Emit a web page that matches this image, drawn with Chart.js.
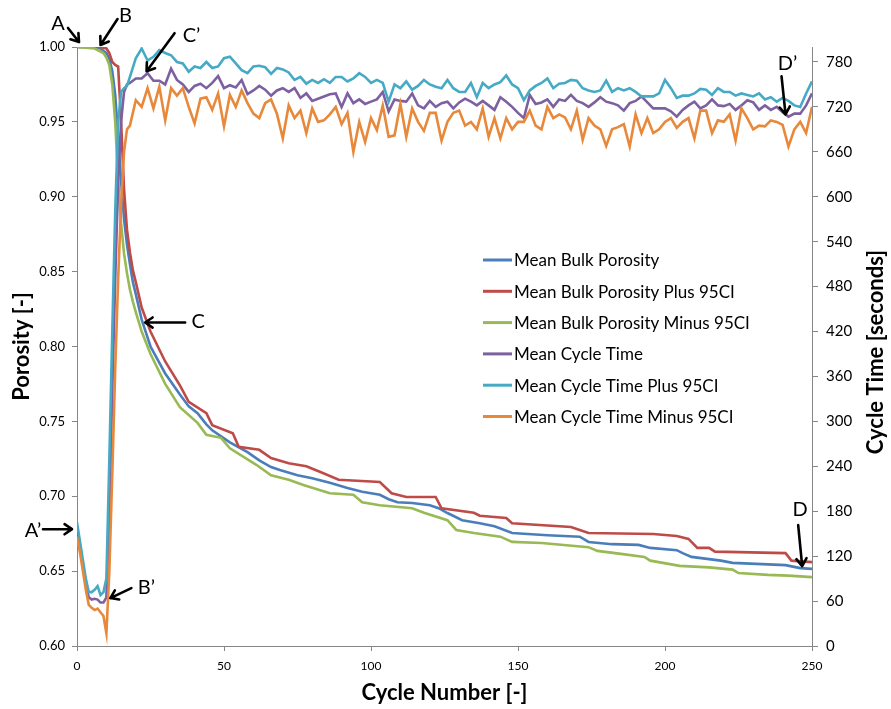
<!DOCTYPE html>
<html>
<head>
<meta charset="utf-8">
<script src="https://cdn.jsdelivr.net/npm/chart.js@4.4.1/dist/chart.umd.min.js"></script>
<style>
  body { margin: 0; background: #fff; }
  #wrap { width: 891px; height: 709px; }
</style>
</head>
<body>
<div id="wrap"><canvas id="porosityChart" width="891" height="709"></canvas></div>
<script>
// Porosity series: [cycle, porosity]
const meanPorosity = [[0,1.0],[5,1.0],[8,0.999],[10,0.996],[11,0.992],[12,0.984],[13,0.968],[14,0.94],[15,0.91],[16,0.885],[17,0.868],[18,0.855],[19,0.843],[20,0.835],[22,0.818],[25,0.80],[30,0.782],[35,0.768],[38,0.76],[41,0.7555],[44,0.748],[46,0.744],[52,0.736],[58,0.7295],[62,0.724],[66,0.7195],[69,0.7175],[75,0.714],[80,0.712],[86,0.709],[92,0.7055],[97,0.703],[103,0.701],[106,0.698],[109,0.696],[114,0.6955],[120,0.694],[123,0.692],[126,0.6888],[131,0.684],[137,0.682],[142,0.68],[148,0.6755],[160,0.674],[171,0.673],[174,0.6695],[182,0.668],[191,0.6675],[195,0.6655],[204,0.664],[206,0.662],[209,0.6595],[215,0.658],[219,0.657],[223,0.6555],[241,0.654],[246,0.652],[250,0.6515]];
const plusPorosity = [[0,1.0],[8,1.0],[10,0.999],[11,0.996],[12,0.99],[13,0.988],[14,0.987],[15,0.95],[16,0.905],[17,0.878],[18,0.863],[19,0.851],[20,0.843],[22,0.826],[25,0.81],[30,0.79],[35,0.774],[38,0.763],[44,0.7555],[46,0.7475],[53,0.742],[55,0.733],[62,0.731],[66,0.7255],[72,0.722],[78,0.72],[83,0.716],[89,0.711],[103,0.7095],[107,0.702],[112,0.6995],[122,0.6995],[124,0.692],[135,0.689],[137,0.687],[146,0.6855],[148,0.682],[168,0.6795],[174,0.6755],[196,0.6748],[204,0.6735],[208,0.6715],[211,0.6655],[215,0.6655],[217,0.663],[241,0.662],[243,0.657],[250,0.656]];
const minusPorosity = [[0,1.0],[6,0.999],[9,0.996],[10,0.993],[11,0.988],[12,0.975],[13,0.95],[14,0.91],[15,0.882],[16,0.862],[17,0.849],[18,0.838],[19,0.83],[20,0.823],[22,0.81],[25,0.795],[30,0.775],[35,0.7595],[41,0.749],[44,0.741],[49,0.739],[52,0.732],[61,0.721],[66,0.714],[72,0.711],[77,0.7075],[86,0.702],[94,0.701],[97,0.696],[103,0.694],[114,0.692],[118,0.689],[126,0.684],[129,0.6775],[135,0.6755],[144,0.673],[148,0.6695],[158,0.6688],[174,0.666],[177,0.6635],[185,0.6615],[193,0.6595],[195,0.657],[205,0.6535],[215,0.6525],[223,0.651],[225,0.6487],[235,0.6475],[242,0.647],[250,0.646]];

// Cycle time series (seconds), sampled at these cycles
const ctCycles = [0,1,2,3,4,5,6,7,8,9,10,11,12,13,14,15,16,17,18,
  20,22,24,26,28,30,32,34,36,38,40,42,44,46,48,50,52,54,56,58,60,62,64,66,68,70,72,74,76,78,80,
  82,84,86,88,90,92,94,96,98,100,102,104,106,108,110,112,114,116,118,120,122,124,126,128,130,132,134,136,138,140,142,144,146,148,150,152,154,156,158,160,162,
  164,166,168,170,172,174,176,178,180,182,184,186,188,190,192,194,196,198,200,202,204,206,208,210,212,214,216,218,220,222,224,226,228,230,232,234,236,238,240,242,244,246,248,250];
const meanCycleTime = [157,135,108,82,65,62,63,62,58,58,65,180,340,490,620,700,740,750,752,
  758,758,765,755,755,750,771,756,750,740,748,751,745,752,761,745,749,746,756,737,742,748,743,735,742,745,740,745,732,738,728,
  731,734,737,738,720,738,725,730,724,727,730,740,714,730,728,727,738,722,718,728,720,725,727,718,726,731,727,722,728,722,716,733,727,720,712,705,736,724,726,730,720,
  730,728,736,728,725,720,726,733,727,725,722,715,725,728,734,726,718,718,718,714,707,716,722,727,718,722,730,722,721,724,716,722,729,726,716,722,716,720,713,707,711,711,722,738];
const cycleTimePlus = [165,140,115,90,72,72,75,80,68,72,90,250,420,580,700,740,745,748,760,
  785,798,782,787,796,792,789,780,778,767,774,772,780,772,774,785,787,778,769,765,774,775,773,764,772,770,766,756,760,751,756,
  752,757,752,760,760,754,758,765,760,752,756,752,727,750,745,754,743,748,756,750,747,745,756,745,740,740,752,733,752,745,750,753,762,750,745,729,742,748,752,758,745,
  751,752,756,755,745,742,740,742,755,740,745,742,745,740,734,734,734,738,756,745,732,735,735,738,744,743,736,745,740,740,735,738,736,734,738,730,733,727,732,728,722,720,738,754];
const cycleTimeMinus = [146,125,100,75,55,51,48,50,45,40,17,100,230,370,490,590,660,690,695,
  729,720,745,718,747,702,745,735,745,720,698,731,733,716,738,694,736,720,742,725,711,705,725,730,711,678,722,705,715,685,718,
  700,702,710,720,697,712,660,700,673,705,689,722,680,682,724,680,718,700,688,712,712,675,700,712,715,695,700,690,718,680,705,678,705,690,700,700,715,695,690,720,705,
  710,706,690,715,676,705,695,690,668,690,693,697,667,710,685,705,685,690,700,705,692,700,705,678,715,715,685,702,700,710,675,718,705,690,695,694,702,700,696,667,690,700,685,720];

const seriesLabels = ['Mean Bulk Porosity', 'Mean Bulk Porosity Plus 95CI', 'Mean Bulk Porosity Minus 95CI',
  'Mean Cycle Time', 'Mean Cycle Time Plus 95CI', 'Mean Cycle Time Minus 95CI'];
const seriesColors = ['#4A7EBB', '#BE4B48', '#98B954', '#7D60A0', '#46AAC5', '#E8883A'];

// letter callouts: target in data units, offsets in px from the target
const callouts = [
  { text: 'A', axis: 'y', x: 0, y: 1.0, tip: [2, -5], tail: [-9, -19], label: [-19, -23] },
  { text: 'B', axis: 'y', x: 8, y: 1.0, tip: [0, -2], tail: [17, -28], label: [25, -31] },
  { text: 'C\u2019', axis: 'y2', x: 24, y: 765, tip: [-1, -2], tail: [27, -40], label: [44, -38] },
  { text: 'C', axis: 'y', x: 22.5, y: 0.816, tip: [2, 0], tail: [42, 0], label: [55, -1] },
  { text: 'D\u2019', axis: 'y2', x: 241, y: 710, tip: [0, 0], tail: [-4, -38], label: [2, -51] },
  { text: 'D', axis: 'y', x: 247, y: 0.6527, tip: [-1, -1], tail: [-5, -42], label: [-3, -58] },
  { text: 'A\u2019', axis: 'y2', x: 0, y: 156, tip: [-5, 0], tail: [-34, 0], label: [-44, 1] },
  { text: 'B\u2019', axis: 'y2', x: 11, y: 64, tip: [1, 0], tail: [22, -10], label: [37, -11] }
];

const FONT = 'Lato, "Open Sans", sans-serif';
const AXIS_GRAY = '#868686';
const TITLE_SIZE = 22;

const toPoints = pairs => pairs.map(p => ({ x: p[0], y: p[1] }));
const ctPoints = vals => ctCycles.map((c, i) => ({ x: c, y: vals[i] }));

const seriesData = [
  toPoints(meanPorosity), toPoints(plusPorosity), toPoints(minusPorosity),
  ctPoints(meanCycleTime), ctPoints(cycleTimePlus), ctPoints(cycleTimeMinus)
];

const datasets = seriesData.map((d, i) => ({
  label: seriesLabels[i],
  data: d,
  yAxisID: i < 3 ? 'y' : 'y2',
  borderColor: seriesColors[i],
  backgroundColor: seriesColors[i],
  borderWidth: 2.6,
  pointRadius: 0,
  tension: 0,
  order: 6 - i
}));

// legend inside the plot area
const legendInside = {
  id: 'legendInside',
  afterDraw(chart) {
    const ctx = chart.ctx;
    ctx.save();
    ctx.font = '17px ' + FONT;
    ctx.textBaseline = 'middle';
    ctx.fillStyle = '#000';
    chart.data.datasets.forEach((ds, i) => {
      const y = 260 + i * 31.3;
      ctx.strokeStyle = ds.borderColor;
      ctx.lineWidth = 3;
      ctx.beginPath();
      ctx.moveTo(483, y);
      ctx.lineTo(512, y);
      ctx.stroke();
      ctx.fillText(ds.label, 514, y + 1);
    });
    ctx.restore();
  }
};

// right axis title reads bottom-to-top like the left one
const rightTitle = {
  id: 'rightTitle',
  afterDraw(chart) {
    const ctx = chart.ctx;
    ctx.save();
    ctx.translate(876, 352);
    ctx.rotate(-Math.PI / 2);
    ctx.font = 'bold ' + TITLE_SIZE + 'px ' + FONT;
    ctx.textAlign = 'center';
    ctx.textBaseline = 'middle';
    ctx.fillStyle = '#000';
    ctx.fillText('Cycle Time [seconds]', 0, 0);
    ctx.restore();
  }
};

const calloutPlugin = {
  id: 'callouts',
  afterDraw(chart) {
    const ctx = chart.ctx;
    const xs = chart.scales.x;
    ctx.save();
    ctx.strokeStyle = '#000';
    ctx.fillStyle = '#000';
    ctx.lineWidth = 2.6;
    ctx.lineCap = 'round';
    ctx.lineJoin = 'round';
    ctx.font = '20px ' + FONT;
    ctx.textAlign = 'center';
    ctx.textBaseline = 'middle';
    callouts.forEach(c => {
      const px = xs.getPixelForValue(c.x);
      const py = chart.scales[c.axis].getPixelForValue(c.y);
      const tx = px + c.tip[0], ty = py + c.tip[1];
      const sx = px + c.tail[0], sy = py + c.tail[1];
      ctx.beginPath();
      ctx.moveTo(sx, sy);
      ctx.lineTo(tx, ty);
      const ang = Math.atan2(ty - sy, tx - sx);
      const h = 9;
      ctx.moveTo(tx - h * Math.cos(ang - 0.6), ty - h * Math.sin(ang - 0.6));
      ctx.lineTo(tx, ty);
      ctx.lineTo(tx - h * Math.cos(ang + 0.6), ty - h * Math.sin(ang + 0.6));
      ctx.stroke();
      ctx.fillText(c.text, px + c.label[0], py + c.label[1]);
    });
    ctx.restore();
  }
};

const ctx = document.getElementById('porosityChart').getContext('2d');
const porosityChart = new Chart(ctx, {
  type: 'line',
  data: { datasets: datasets },
  options: {
    responsive: false,
    animation: false,
    devicePixelRatio: 1,
    layout: { padding: { top: 47, left: 0, right: 0, bottom: 0 } },
    plugins: { legend: { display: false }, tooltip: { enabled: false } },
    scales: {
      x: {
        type: 'linear',
        min: 0, max: 250,
        ticks: { stepSize: 50, color: '#000', font: { family: FONT, size: 12 }, padding: 8, maxRotation: 0 },
        grid: { drawOnChartArea: false, color: AXIS_GRAY, tickLength: 5 },
        border: { color: AXIS_GRAY },
        title: { display: true, text: 'Cycle Number [-]', color: '#000', font: { family: FONT, size: TITLE_SIZE, weight: 'bold' }, padding: { top: 0, bottom: 3 } },
        afterFit(scale) { scale.height = 63; }
      },
      y: {
        position: 'left',
        min: 0.6, max: 1.0,
        ticks: { stepSize: 0.05, color: '#000', font: { family: FONT, size: 13 }, padding: 7, callback: v => v.toFixed(2) },
        grid: { drawOnChartArea: false, color: AXIS_GRAY, tickLength: 5 },
        border: { color: AXIS_GRAY },
        title: { display: true, text: 'Porosity [-]', color: '#000', font: { family: FONT, size: TITLE_SIZE, weight: 'bold' }, padding: { top: 9, bottom: 0 } },
        afterFit(scale) { scale.width = 77; }
      },
      y2: {
        position: 'right',
        min: 0, max: 800,
        ticks: { stepSize: 60, includeBounds: false, color: '#000', font: { family: FONT, size: 15 }, padding: 8 },
        grid: { drawOnChartArea: false, color: AXIS_GRAY, tickLength: 6 },
        border: { color: AXIS_GRAY },
        afterFit(scale) { scale.width = 79; }
      }
    }
  },
  plugins: [legendInside, rightTitle, calloutPlugin]
});
</script>
</body>
</html>
